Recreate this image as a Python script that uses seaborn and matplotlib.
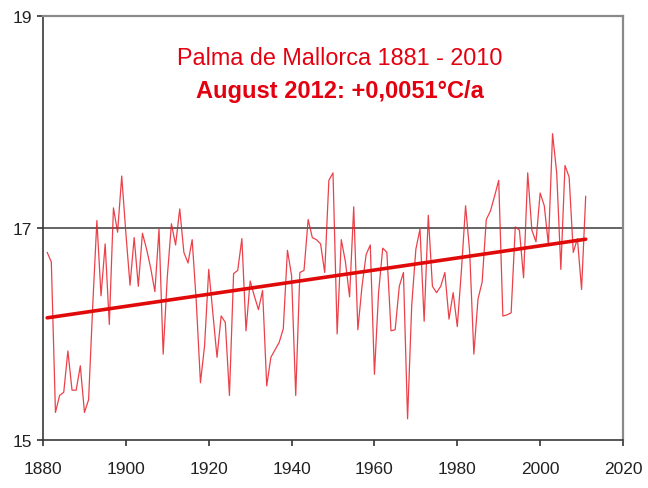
import matplotlib
matplotlib.use('Agg')
import matplotlib.pyplot as plt
import numpy as np
import pandas as pd
import seaborn as sns

# August mean temperature, Palma de Mallorca
years = list(range(1881, 2012))
temps = [16.77, 16.68, 15.26, 15.42, 15.45, 15.84, 15.47, 15.47, 15.70, 15.26,
         15.38, 16.27, 17.07, 16.36, 16.85, 16.09, 17.19, 16.96, 17.49, 16.95,
         16.46, 16.91, 16.45, 16.95, 16.80, 16.62, 16.40, 16.99, 15.81, 16.54,
         17.04, 16.84, 17.18, 16.77, 16.67, 16.89, 16.30, 15.54, 15.89, 16.61,
         16.20, 15.78, 16.17, 16.11, 15.42, 16.57, 16.60, 16.90, 16.03, 16.50,
         16.36, 16.23, 16.41, 15.51, 15.78, 15.85, 15.92, 16.05, 16.79, 16.55,
         15.42, 16.58, 16.60, 17.08, 16.91, 16.89, 16.85, 16.58, 17.45, 17.52,
         16.00, 16.89, 16.68, 16.35, 17.20, 16.04, 16.45, 16.75, 16.84, 15.62,
         16.39, 16.81, 16.77, 16.03, 16.04, 16.45, 16.58, 15.20, 16.27, 16.80,
         16.99, 16.12, 17.12, 16.45, 16.39, 16.45, 16.58, 16.14, 16.39, 16.07,
         16.60, 17.21, 16.77, 15.81, 16.33, 16.49, 17.08, 17.16, 17.30, 17.45,
         16.17, 16.18, 16.20, 17.01, 16.98, 16.53, 17.52, 16.98, 16.87, 17.33,
         17.21, 16.84, 17.89, 17.52, 16.61, 17.59, 17.48, 16.77, 16.90, 16.42,
         17.30]

x_ticks = [1880, 1900, 1920, 1940, 1960, 1980, 2000, 2020]
y_ticks = [15, 17, 19]
ref_level = 17
title1 = 'Palma de Mallorca 1881 - 2010'
title2 = 'August 2012: +0,0051°C/a'

df = pd.DataFrame({'Jahr': years, 'Temp': temps})

sns.set_style('ticks')
plt.rcParams['font.family'] = ['Liberation Sans', 'DejaVu Sans']

fig = plt.figure(figsize=(6.48, 4.89), dpi=100)
ax = fig.add_axes([0.0664, 0.0982, 0.8950, 0.8670])

ax.axhline(ref_level, color='#3a3a3a', lw=1.1, zorder=1)
sns.lineplot(x='Jahr', y='Temp', data=df, color='#e8202a', lw=0.9, alpha=0.85, ax=ax, zorder=2)
sns.regplot(x='Jahr', y='Temp', data=df, scatter=False, ci=None,
            line_kws={'color': '#e00a0a', 'lw': 2.6}, ax=ax)

ax.set_xlim(1880, 2020)
ax.set_ylim(15, 19)
ax.set_xticks(x_ticks)
ax.set_yticks(y_ticks)
ax.set_xlabel('')
ax.set_ylabel('')
ax.tick_params(axis='x', length=4, width=1.1, pad=11, labelsize=12.5, colors='#222222')
ax.tick_params(axis='y', length=4, width=1.1, pad=4, labelsize=12.5, colors='#222222')

for s in ['left', 'bottom']:
    ax.spines[s].set_color('#3a3a3a')
    ax.spines[s].set_linewidth(1.2)
for s in ['top', 'right']:
    ax.spines[s].set_visible(True)
    ax.spines[s].set_color('#8a8a8a')
    ax.spines[s].set_linewidth(1.6)

fig.text(0.525, 0.867, title1, color='#e3000f', fontsize=16.8, ha='center', va='baseline')
fig.text(0.525, 0.800, title2, color='#e3000f', fontsize=17, fontweight='bold',
         ha='center', va='baseline')

fig.savefig('out.png', dpi=100)
